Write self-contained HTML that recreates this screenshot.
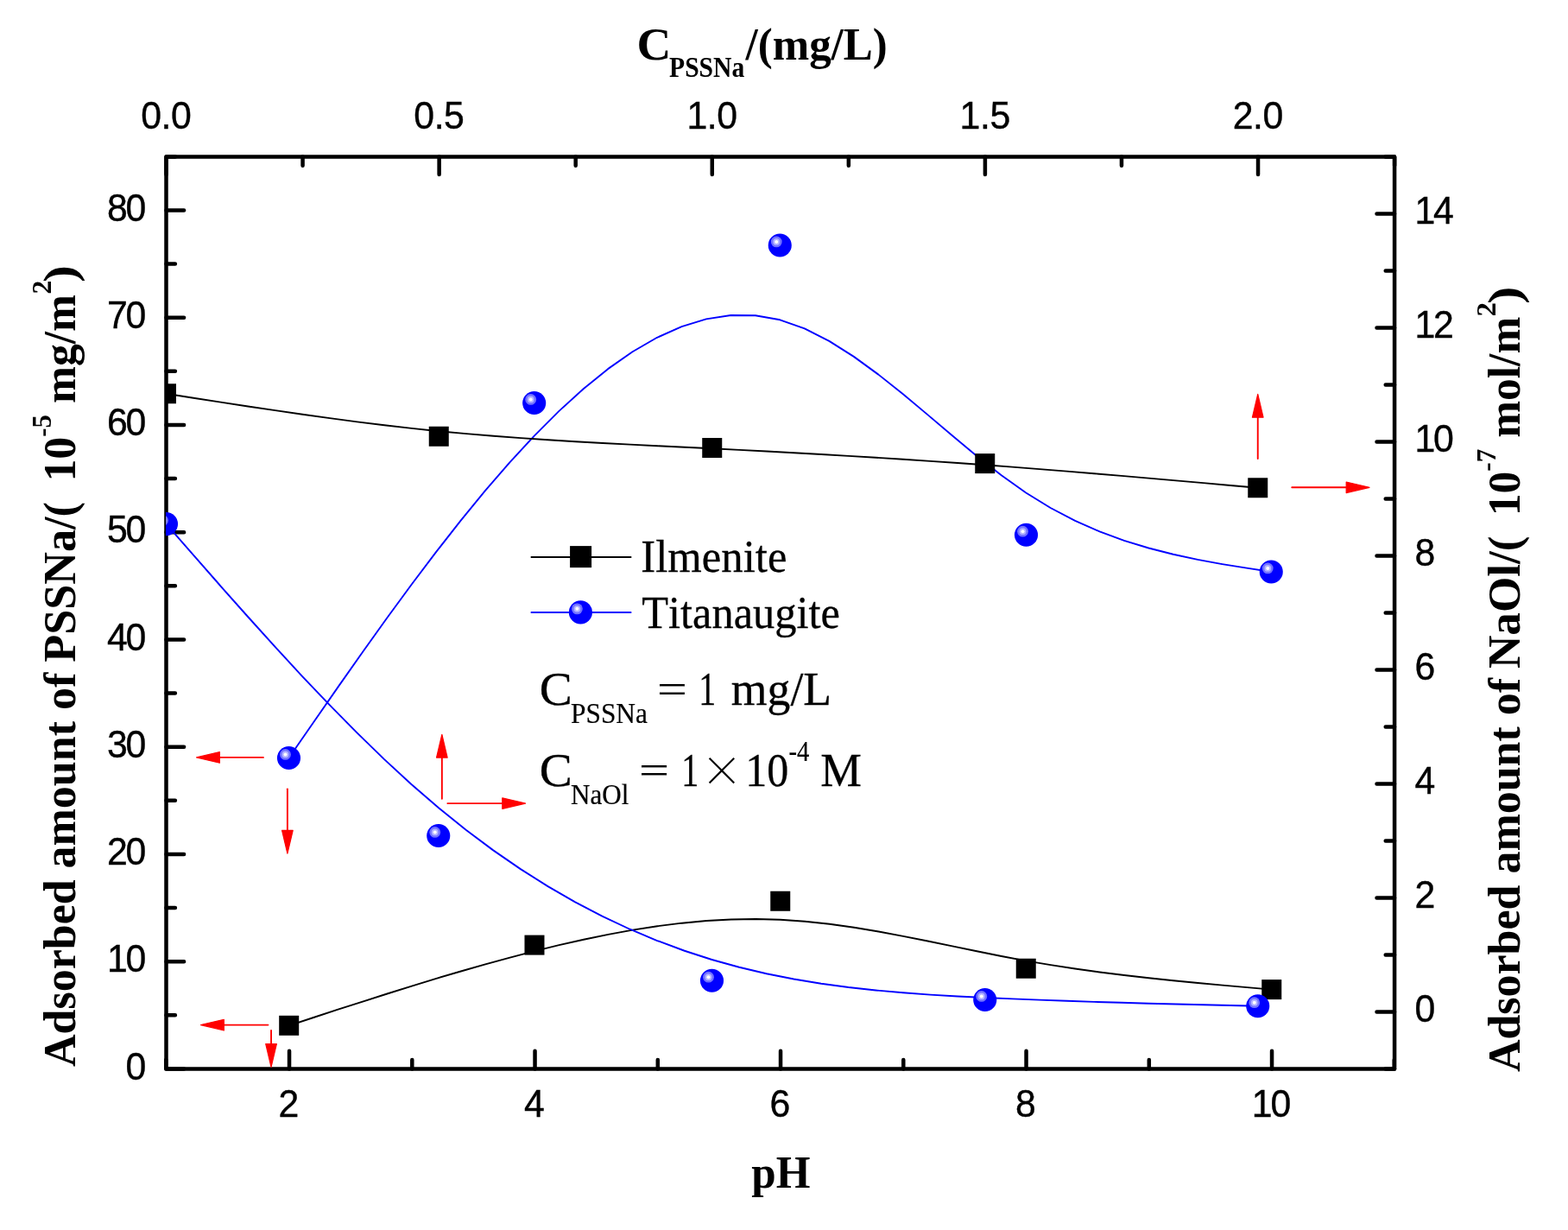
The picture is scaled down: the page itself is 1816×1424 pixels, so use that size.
<!DOCTYPE html>
<html lang="en"><head><meta charset="utf-8"><title>Adsorbed amount of PSSNa and NaOl</title>
<style>html,body{margin:0;padding:0;background:#fff}body{width:1816px;height:1424px;overflow:hidden}svg{display:block}text{font-kerning:none;white-space:pre;fill:#000}.t{font-family:"Liberation Sans",sans-serif;font-size:43.9px}.b{font-family:"Liberation Serif",serif;font-weight:bold;font-size:52.5px}.r{font-family:"Liberation Serif",serif;font-size:50.5px}.x{font-family:"Noto Serif CJK SC","Liberation Serif",serif;font-size:49.3px}</style></head><body>
<svg width="1816" height="1424" viewBox="0 0 1816 1424">
<rect width="1816" height="1424" fill="#fff"/>
<defs><clipPath id="cp"><rect x="192.5" y="181.4" width="1422.6" height="1056"/></clipPath>
<clipPath id="cp2"><rect x="192" y="181.4" width="1423.1" height="1056"/></clipPath>
<g id="ball"><circle r="13.55" fill="#0000ff"/><circle cx="-4" cy="-4.05" r="6.4" fill="#7373ff"/><circle cx="-4" cy="-4.05" r="3.9" fill="#b3b3ff"/><circle cx="-4" cy="-4.05" r="2" fill="#fff"/></g></defs>
<g clip-path="url(#cp)">
<path d="M334.7 1187.3 L363.13 1177.99 L391.56 1168.72 L419.99 1159.53 L448.42 1150.47 L476.86 1141.58 L505.3 1132.9 L533.74 1124.48 L562.18 1116.35 L590.62 1108.57 L619.07 1101.16 L647.53 1094.18 L675.99 1087.72 L704.45 1081.85 L732.91 1076.66 L761.38 1072.24 L789.85 1068.68 L818.31 1066.06 L846.78 1064.47 L875.24 1064 L903.71 1064.72 L932.17 1066.7 L960.63 1069.77 L989.09 1073.77 L1017.54 1078.52 L1045.99 1083.82 L1074.45 1089.49 L1102.9 1095.36 L1131.35 1101.24 L1159.8 1106.95 L1188.25 1112.31 L1216.7 1117.17 L1245.15 1121.54 L1273.6 1125.49 L1302.05 1129.06 L1330.5 1132.31 L1358.95 1135.29 L1387.4 1138.05 L1415.85 1140.66 L1444.3 1143.16 L1472.75 1145.6" fill="none" stroke="#000" stroke-width="1.9" stroke-linejoin="round"/>
<rect x="323.2" y="1175.8" width="23" height="23" fill="#000"/><rect x="607.5" y="1082.6" width="23" height="23" fill="#000"/><rect x="892.25" y="1031.75" width="23" height="23" fill="#000"/><rect x="1176.75" y="1109.75" width="23" height="23" fill="#000"/><rect x="1461.25" y="1134.1" width="23" height="23" fill="#000"/>
<path d="M334.5 877.5 L362.92 836.44 L391.34 795.6 L419.76 755.23 L448.18 715.54 L476.61 676.76 L505.03 639.13 L533.46 602.86 L561.89 568.2 L590.32 535.36 L618.76 504.58 L647.2 476.1 L675.64 450.19 L704.09 427.14 L732.54 407.25 L761 390.8 L789.46 378.08 L817.93 369.38 L846.4 364.99 L874.88 365.19 L903.37 370.29 L931.86 380.38 L960.36 394.84 L988.86 412.86 L1017.36 433.62 L1045.86 456.32 L1074.35 480.14 L1102.84 504.28 L1131.32 527.93 L1159.79 550.27 L1188.25 570.5 L1216.69 587.99 L1245.12 602.84 L1273.54 615.35 L1301.95 625.82 L1330.34 634.53 L1358.73 641.78 L1387.12 647.86 L1415.5 653.06 L1443.87 657.68 L1472.25 662" fill="none" stroke="#0000ff" stroke-width="1.9" stroke-linejoin="round"/>
<use href="#ball" x="334.5" y="877.5"/><use href="#ball" x="618.7" y="466.5"/><use href="#ball" x="903.25" y="284"/><use href="#ball" x="1188.5" y="619.25"/><use href="#ball" x="1472.25" y="662"/>
</g>
<g stroke="#000" stroke-width="4.5" fill="none" stroke-linecap="round">
<rect x="192.5" y="181.4" width="1422.6" height="1056" stroke-linejoin="round"/>
<path d="M335.05 1237.4L335.05 1216.8M619.55 1237.4L619.55 1216.8M904.05 1237.4L904.05 1216.8M1188.55 1237.4L1188.55 1216.8M1473.05 1237.4L1473.05 1216.8M192.25 1237.4L192.25 1227M477.3 1237.4L477.3 1227M761.8 1237.4L761.8 1227M1046.3 1237.4L1046.3 1227M1330.8 1237.4L1330.8 1227M1614.75 1237.4L1614.75 1227M192.5 181.4L192.5 202M508.63 181.4L508.63 202M824.77 181.4L824.77 202M1140.9 181.4L1140.9 202M1457.04 181.4L1457.04 202M350.57 181.4L350.57 191.8M666.7 181.4L666.7 191.8M982.84 181.4L982.84 191.8M1298.97 181.4L1298.97 191.8M1615.1 181.4L1615.1 191.8M192.5 1237.4L213.1 1237.4M192.5 1113.16L213.1 1113.16M192.5 988.92L213.1 988.92M192.5 864.68L213.1 864.68M192.5 740.44L213.1 740.44M192.5 616.2L213.1 616.2M192.5 491.96L213.1 491.96M192.5 367.72L213.1 367.72M192.5 243.48L213.1 243.48M192.5 1175.28L202.9 1175.28M192.5 1051.04L202.9 1051.04M192.5 926.8L202.9 926.8M192.5 802.56L202.9 802.56M192.5 678.32L202.9 678.32M192.5 554.08L202.9 554.08M192.5 429.84L202.9 429.84M192.5 305.6L202.9 305.6M192.5 181.4L202.9 181.4M1615.1 1171.4L1594.5 1171.4M1615.1 1039.4L1594.5 1039.4M1615.1 907.4L1594.5 907.4M1615.1 775.4L1594.5 775.4M1615.1 643.4L1594.5 643.4M1615.1 511.4L1594.5 511.4M1615.1 379.4L1594.5 379.4M1615.1 247.4L1594.5 247.4M1615.1 1237.4L1604.7 1237.4M1615.1 1105.4L1604.7 1105.4M1615.1 973.4L1604.7 973.4M1615.1 841.4L1604.7 841.4M1615.1 709.4L1604.7 709.4M1615.1 577.4L1604.7 577.4M1615.1 445.4L1604.7 445.4M1615.1 313.4L1604.7 313.4M1615.1 181.4L1604.7 181.4"/>
</g>
<g clip-path="url(#cp2)">
<path d="M192.5 455.75 L224.08 460.69 L255.65 465.6 L287.23 470.44 L318.81 475.16 L350.39 479.74 L381.98 484.14 L413.57 488.33 L445.16 492.26 L476.77 495.9 L508.37 499.21 L539.99 502.17 L571.61 504.81 L603.24 507.17 L634.87 509.3 L666.51 511.22 L698.14 512.99 L729.77 514.64 L761.41 516.22 L793.04 517.76 L824.67 519.31 L856.29 520.9 L887.91 522.55 L919.52 524.25 L951.13 526.02 L982.74 527.86 L1014.34 529.77 L1045.95 531.77 L1077.55 533.84 L1109.15 536.01 L1140.75 538.27 L1172.35 540.64 L1203.95 543.09 L1235.55 545.62 L1267.15 548.22 L1298.75 550.88 L1330.35 553.6 L1361.95 556.35 L1393.55 559.13 L1425.15 561.94 L1456.75 564.75" fill="none" stroke="#000" stroke-width="1.9" stroke-linejoin="round"/>
<rect x="181" y="444.25" width="23" height="23" fill="#000"/><rect x="496.75" y="493.75" width="23" height="23" fill="#000"/><rect x="813.25" y="507" width="23" height="23" fill="#000"/><rect x="1129.25" y="525.1" width="23" height="23" fill="#000"/><rect x="1445.25" y="553.25" width="23" height="23" fill="#000"/>
<path d="M192.5 606.6 L224.03 642.66 L255.55 678.52 L287.08 714 L318.62 748.9 L350.16 783.03 L381.7 816.19 L413.26 848.19 L444.83 878.84 L476.41 907.94 L508 935.31 L539.61 960.78 L571.23 984.37 L602.86 1006.13 L634.5 1026.09 L666.15 1044.32 L697.8 1060.85 L729.45 1075.74 L761.11 1089.03 L792.76 1100.76 L824.42 1111 L856.06 1119.79 L887.71 1127.26 L919.35 1133.54 L950.98 1138.75 L982.61 1143.03 L1014.24 1146.51 L1045.86 1149.31 L1077.48 1151.58 L1109.09 1153.43 L1140.71 1155 L1172.32 1156.4 L1203.93 1157.67 L1235.54 1158.82 L1267.14 1159.86 L1298.74 1160.81 L1330.35 1161.69 L1361.95 1162.51 L1393.55 1163.28 L1425.15 1164.02 L1456.75 1164.75" fill="none" stroke="#0000ff" stroke-width="1.9" stroke-linejoin="round"/>
<use href="#ball" x="192.5" y="606.6"/><use href="#ball" x="507.75" y="967.5"/><use href="#ball" x="824.5" y="1135.25"/><use href="#ball" x="1140.75" y="1157.5"/><use href="#ball" x="1456.75" y="1164.75"/>
</g>
<g fill="#ff0000" stroke="#ff0000">
<path d="M304.95 876.9L254.4 876.9" stroke-width="1.9" stroke-linecap="round"/><path d="M227.6 876.9L254.4 870.6L254.4 883.2Z" stroke-width="1.2" stroke-linejoin="round"/>
<path d="M332.9 913.35L332.9 961.4" stroke-width="1.9" stroke-linecap="round"/><path d="M332.9 988.2L326.6 961.4L339.2 961.4Z" stroke-width="1.2" stroke-linejoin="round"/>
<path d="M511.85 924.75L511.85 877.1" stroke-width="1.9" stroke-linecap="round"/><path d="M511.85 850.3L518.15 877.1L505.55 877.1Z" stroke-width="1.2" stroke-linejoin="round"/>
<path d="M518.35 930.1L581.8 930.1" stroke-width="1.9" stroke-linecap="round"/><path d="M608.6 930.1L581.8 936.4L581.8 923.8Z" stroke-width="1.2" stroke-linejoin="round"/>
<path d="M310.45 1186.6L259.35 1186.6" stroke-width="1.9" stroke-linecap="round"/><path d="M232.55 1186.6L259.35 1180.3L259.35 1192.9Z" stroke-width="1.2" stroke-linejoin="round"/>
<path d="M314.05 1192.95L314.05 1208.55" stroke-width="1.9" stroke-linecap="round"/><path d="M314.05 1235.35L307.75 1208.55L320.35 1208.55Z" stroke-width="1.2" stroke-linejoin="round"/>
<path d="M1456.75 530.95L1456.75 483.2" stroke-width="1.9" stroke-linecap="round"/><path d="M1456.75 456.4L1463.05 483.2L1450.45 483.2Z" stroke-width="1.2" stroke-linejoin="round"/>
<path d="M1496.25 564.3L1559.2 564.3" stroke-width="1.9" stroke-linecap="round"/><path d="M1586 564.3L1559.2 570.6L1559.2 558Z" stroke-width="1.2" stroke-linejoin="round"/>
</g>
<g class="t">
<text style="stroke:#000;stroke-width:0.4" transform="translate(145.5 1249.5) scale(0.975 1)">0</text>
<text style="stroke:#000;stroke-width:0.4;letter-spacing:-2.26px" transform="translate(123.89 1125.26) scale(0.975 1)">10</text>
<text style="stroke:#000;stroke-width:0.4;letter-spacing:-2.26px" transform="translate(123.89 1001.02) scale(0.975 1)">20</text>
<text style="stroke:#000;stroke-width:0.4;letter-spacing:-2.26px" transform="translate(123.89 876.78) scale(0.975 1)">30</text>
<text style="stroke:#000;stroke-width:0.4;letter-spacing:-2.26px" transform="translate(123.89 752.54) scale(0.975 1)">40</text>
<text style="stroke:#000;stroke-width:0.4;letter-spacing:-2.26px" transform="translate(123.89 628.3) scale(0.975 1)">50</text>
<text style="stroke:#000;stroke-width:0.4;letter-spacing:-2.26px" transform="translate(123.89 504.06) scale(0.975 1)">60</text>
<text style="stroke:#000;stroke-width:0.4;letter-spacing:-2.26px" transform="translate(123.89 379.82) scale(0.975 1)">70</text>
<text style="stroke:#000;stroke-width:0.4;letter-spacing:-2.26px" transform="translate(123.89 255.58) scale(0.975 1)">80</text>
<text style="stroke:#000;stroke-width:0.4" transform="translate(1638.4 1183.1) scale(0.975 1)">0</text>
<text style="stroke:#000;stroke-width:0.4" transform="translate(1638.4 1051.1) scale(0.975 1)">2</text>
<text style="stroke:#000;stroke-width:0.4" transform="translate(1638.4 919.1) scale(0.975 1)">4</text>
<text style="stroke:#000;stroke-width:0.4" transform="translate(1638.4 787.1) scale(0.975 1)">6</text>
<text style="stroke:#000;stroke-width:0.4" transform="translate(1638.4 655.1) scale(0.975 1)">8</text>
<text style="stroke:#000;stroke-width:0.4;letter-spacing:-2.26px" transform="translate(1638.4 523.1) scale(0.975 1)">10</text>
<text style="stroke:#000;stroke-width:0.4;letter-spacing:-2.26px" transform="translate(1638.4 391.1) scale(0.975 1)">12</text>
<text style="stroke:#000;stroke-width:0.4;letter-spacing:-2.26px" transform="translate(1638.4 259.1) scale(0.975 1)">14</text>
<text style="stroke:#000;stroke-width:0.4" transform="translate(322.6 1293.3) scale(0.975 1)">2</text>
<text style="stroke:#000;stroke-width:0.4" transform="translate(607.1 1293.3) scale(0.975 1)">4</text>
<text style="stroke:#000;stroke-width:0.4" transform="translate(891.6 1293.3) scale(0.975 1)">6</text>
<text style="stroke:#000;stroke-width:0.4" transform="translate(1176.1 1293.3) scale(0.975 1)">8</text>
<text style="stroke:#000;stroke-width:0.4;letter-spacing:-2.26px" transform="translate(1449.8 1293.3) scale(0.975 1)">10</text>
<text style="stroke:#000;stroke-width:0.4;letter-spacing:-0.46px" transform="translate(163.2 149) scale(0.975 1)">0.0</text>
<text style="stroke:#000;stroke-width:0.4;letter-spacing:-0.46px" transform="translate(479.33 149) scale(0.975 1)">0.5</text>
<text style="stroke:#000;stroke-width:0.4;letter-spacing:-0.46px" transform="translate(795.47 149) scale(0.975 1)">1.0</text>
<text style="stroke:#000;stroke-width:0.4;letter-spacing:-0.46px" transform="translate(1111.6 149) scale(0.975 1)">1.5</text>
<text style="stroke:#000;stroke-width:0.4;letter-spacing:-0.46px" transform="translate(1427.74 149) scale(0.975 1)">2.0</text>
</g>
<g><text class="b" style="font-size:52.5px" transform="translate(737.4 68.7) scale(1.0526 1)">C</text><text class="b" style="font-size:33px" transform="translate(775.04 88.8) scale(0.8982 1)">PSSNa</text><text class="b" style="font-size:52.5px" transform="translate(863.5 68.7) scale(0.9714 1)">/(mg/L)</text></g>
<text class="b" style="font-size:52.5px" transform="translate(870.35 1374.8) scale(0.9738 1)">pH</text>
<g><text class="b" style="font-size:52.5px" transform="translate(86.9 1234.91) rotate(-90) scale(0.99 1)">Adsorbed amount of</text> <text class="b" style="font-size:52.5px" transform="translate(86.9 766.69) rotate(-90) scale(0.9945 1)">PSSNa/(</text> <text class="b" style="font-size:52.5px" transform="translate(86.9 557.55) rotate(-90) scale(0.9871 1)">10</text><text class="b" style="font-size:31.8px" transform="translate(59.4 505.72) rotate(-90) scale(0.9602 1)">-5</text> <text class="b" style="font-size:52.5px" transform="translate(86.9 466.99) rotate(-90) scale(0.9826 1)">mg/m</text><text class="b" style="font-size:31.8px" transform="translate(59.4 340.54) rotate(-90) scale(1.0001 1)">2</text><text class="b" style="font-size:52.5px" transform="translate(86.9 327.03) rotate(-90) scale(1.1421 1)">)</text></g>
<g><text class="b" style="font-size:52.5px" transform="translate(1760.3 1241.11) rotate(-90) scale(0.99 1)">Adsorbed amount of</text> <text class="b" style="font-size:52.5px" transform="translate(1760.3 774.01) rotate(-90) scale(1.0123 1)">NaOl/(</text> <text class="b" style="font-size:52.5px" transform="translate(1760.3 597.34) rotate(-90) scale(0.985 1)">10</text><text class="b" style="font-size:31.8px" transform="translate(1731.9 545.64) rotate(-90) scale(0.9817 1)">-7</text> <text class="b" style="font-size:52.5px" transform="translate(1760.3 506.78) rotate(-90) scale(0.9802 1)">mol/m</text><text class="b" style="font-size:31.8px" transform="translate(1731.9 366.39) rotate(-90) scale(1.038 1)">2</text><text class="b" style="font-size:52.5px" transform="translate(1760.3 351.98) rotate(-90) scale(1.1718 1)">)</text></g>
<line x1="614.7" y1="645" x2="731.3" y2="645" stroke="#000" stroke-width="2.1"/>
<rect x="660.1" y="632.1" width="25" height="25" fill="#000"/>
<line x1="614.7" y1="709" x2="731.3" y2="709" stroke="#0000ff" stroke-width="2.1"/>
<use href="#ball" x="672.4" y="708.9"/>
<text class="r" style="font-size:52.8px;stroke:#000;stroke-width:0.3" transform="translate(742.32 662.2) scale(0.9617 1)">Ilmenite</text>
<text class="r" style="font-size:52.8px;stroke:#000;stroke-width:0.3" transform="translate(743.24 727) scale(0.9552 1)">Titanaugite</text>
<g><text class="r" style="font-size:54.6px;stroke:#000;stroke-width:0.3" transform="translate(624.81 816.2) scale(1.046 1)">C</text><text class="r" style="font-size:33.7px;stroke:#000;stroke-width:0.2" transform="translate(661 837) scale(0.931 1)">PSSNa</text> <text class="r" style="font-size:46px;stroke:#000;stroke-width:0.2" transform="translate(760.92 813.27) scale(1.3455 1)">=</text> <text class="r" style="font-size:54.6px;stroke:#000;stroke-width:0.3" transform="translate(809.25 816.2) scale(0.7283 1)">1</text> <text class="r" style="font-size:54.6px;stroke:#000;stroke-width:0.3" transform="translate(846.82 816.2) scale(0.9836 1)">mg/L</text></g>
<g><text class="r" style="font-size:54.6px;stroke:#000;stroke-width:0.3" transform="translate(624.81 910.4) scale(1.046 1)">C</text><text class="r" style="font-size:33.7px;stroke:#000;stroke-width:0.2" transform="translate(661 930.6) scale(0.9222 1)">NaOl</text> <text class="r" style="font-size:46px;stroke:#000;stroke-width:0.2" transform="translate(739.91 907.47) scale(1.3501 1)">=</text> <text class="r" style="font-size:54.6px;stroke:#000;stroke-width:0.3" transform="translate(789.23 910.4) scale(0.7335 1)">1</text><text class="x" x="811.35" y="910.4">×</text><text class="r" style="font-size:54.6px;stroke:#000;stroke-width:0.3" transform="translate(863.15 910.4) scale(0.9178 1)">10</text><text class="r" style="font-size:33.7px;stroke:#000;stroke-width:0.2" transform="translate(913.54 881.1) scale(0.8481 1)">-4</text> <text class="r" style="font-size:54.6px;stroke:#000;stroke-width:0.3" transform="translate(950.2 910.4) scale(0.9829 1)">M</text></g>
</svg></body></html>
